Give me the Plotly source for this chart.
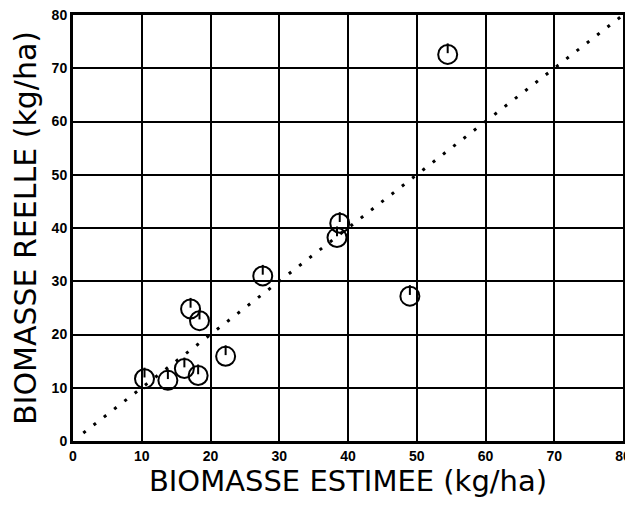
import plotly.graph_objects as go

estimee = [54.5, 38.8, 38.4, 27.6, 49.0, 17.1, 18.4, 22.2, 16.2, 18.2, 10.4, 13.8]
reelle = [72.6, 40.9, 38.2, 31.0, 27.2, 24.8, 22.6, 15.9, 13.6, 12.3, 11.7, 11.4]
ref_line = [1.5, 80]
ticks = [0, 10, 20, 30, 40, 50, 60, 70, 80]

fig = go.Figure()
fig.add_trace(go.Scatter(x=ref_line, y=ref_line, mode="lines",
                         line=dict(color="black", width=3, dash="3px,10px"),
                         showlegend=False, hoverinfo="skip"))
fig.add_trace(go.Scatter(x=estimee, y=reelle, mode="markers",
                         marker=dict(symbol="circle-open", size=19, color="black",
                                     line=dict(width=2, color="black")),
                         showlegend=False))
# small tick inside each circle (from top edge toward centre)
fig.add_trace(go.Scatter(x=estimee, y=[v + 1.15 for v in reelle], mode="markers",
                         marker=dict(symbol="line-ns", size=7,
                                     line=dict(width=2, color="black")),
                         showlegend=False, hoverinfo="skip"))

axis_common = dict(range=[0, 80], tickvals=ticks, showgrid=True, gridcolor="black",
                   gridwidth=2, showline=True, linecolor="black", linewidth=3,
                   mirror=True, zeroline=False, ticks="", automargin=False,
                   ticklabeloverflow="allow",
                   tickfont=dict(family="Liberation Sans", size=14, color="black",
                                 weight="bold"))

fig.update_xaxes(**axis_common,
                 title=dict(text="BIOMASSE ESTIMEE (kg/ha)", standoff=12,
                            font=dict(family="DejaVu Sans", size=29, color="black")))
fig.update_yaxes(**axis_common,
                 title=dict(text="BIOMASSE REELLE (kg/ha)", standoff=16,
                            font=dict(family="DejaVu Sans", size=30, color="black")))

fig.update_layout(width=625, height=490, plot_bgcolor="white", paper_bgcolor="white",
                  margin=dict(l=65, r=10, t=7, b=57))
fig.write_html("out.html")
